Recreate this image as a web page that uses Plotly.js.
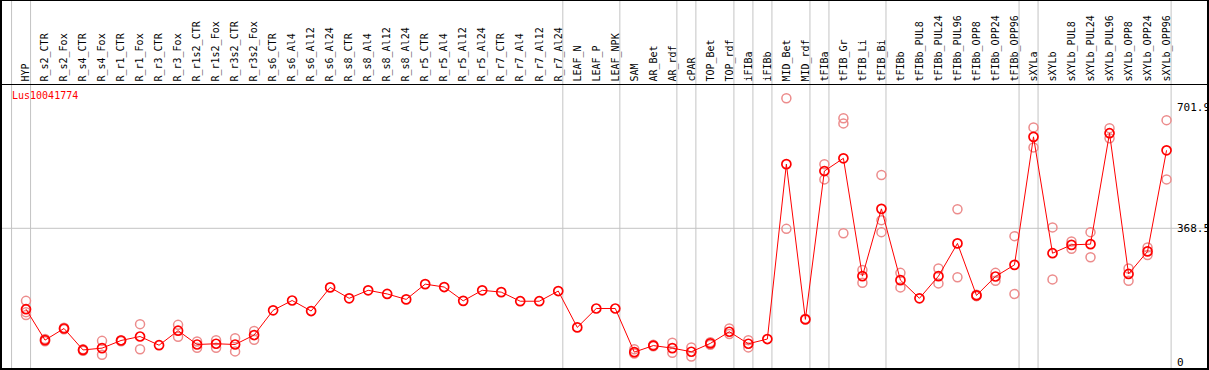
<!DOCTYPE html>
<html><head><meta charset="utf-8">
<script src="https://cdn.plot.ly/plotly-3.0.1.min.js"></script>
<style>html,body{margin:0;padding:0;background:#fff}#chart{width:1209px;height:370px}</style>
</head><body><div id="chart"></div>
<script>
const categories = ['HYP','R_s2_CTR','R_s2_Fox','R_s4_CTR','R_s4_Fox','R_r1_CTR','R_r1_Fox','R_r3_CTR','R_r3_Fox',
 'R_r1s2_CTR','R_r1s2_Fox','R_r3s2_CTR','R_r3s2_Fox','R_s6_CTR','R_s6_Al4','R_s6_Al12','R_s6_Al24',
 'R_s8_CTR','R_s8_Al4','R_s8_Al12','R_s8_Al24','R_r5_CTR','R_r5_Al4','R_r5_Al12','R_r5_Al24',
 'R_r7_CTR','R_r7_Al4','R_r7_Al12','R_r7_Al24','LEAF_N','LEAF_P','LEAF_NPK','SAM','AR_Bet','AR_rdf',
 'cPAR','TOP_Bet','TOP_rdf','iFIBa','iFIBb','MID_Bet','MID_rdf','tFIBa','tFIB_Gr','tFIB_Li','tFIB_Bi',
 'tFIBb','tFIBb_PUL8','tFIBb_PUL24','tFIBb_PUL96','tFIBb_OPP8','tFIBb_OPP24','tFIBb_OPP96',
 'sXYLa','sXYLb','sXYLb_PUL8','sXYLb_PUL24','sXYLb_PUL96','sXYLb_OPP8','sXYLb_OPP24','sXYLb_OPP96'];

const means = [146,61,93,34,39,60,71,47,87,
 49,51,49,75,143,170,141,206,
 176,198,188,173,215,207,169,198,
 193,168,168,196,96,148,148,28,46,39,
 29,52,84,51,64,545,118,526,561,237,422,
 226,176,237,327,184,236,268,
 620,300,323,325,630,243,305,583];

const replicates = [[169,138,130],[64,58],[95,91],[36,32],[59,21],[61,58],[105,36],[],[103,70],
 [57,40],[61,40],[66,30],[86,62],[],[],[],[],
 [],[],[],[],[],[],[],[],
 [],[],[],[],[],[],[],[36,24],[48,44],[54,26],
 [41,16],[55,48],[93,78],[61,41],[],[726,367],[120],[545,503],[671,657,355],[254,219],[515,391,358],
 [246,206],[],[258,217],[421,234],[186,182],[246,224],[347,188],
 [646,591],[371,228],[332,312],[358,289],[644,616],[258,224],[316,295],[666,503]];

const groupEnds = [-1,0,28,31,34,35,37,38,39,41,42,45,52,53,60];
const yTicks = [0, 368.5, 701.9];
const yTickText = ['0','368.5','701.9'];
const geneLabel = 'Lus10041774';

const repX = [], repY = [];
replicates.forEach((r,i)=>r.forEach(v=>{repX.push(categories[i]); repY.push(v);}));

const W=1209, H=370, mt=85, mb=1, ml=1, mr=1;
const plotH = H-mt-mb;
const mono = 'DejaVu Sans Mono, monospace';

const traces = [
 {type:'scatter', mode:'markers', x:repX, y:repY, hoverinfo:'skip', cliponaxis:false,
  marker:{symbol:'circle-open', size:9, color:'rgb(236,140,140)', line:{width:1.5}}},
 {type:'scatter', mode:'lines+markers', x:categories, y:means, cliponaxis:false,
  line:{color:'#ff0000', width:1},
  marker:{symbol:'circle-open', size:9, color:'#ff0000', line:{width:1.7}}}
];

const shapes = groupEnds.map(g=>({type:'line', xref:'x', yref:'paper', x0:g+0.24, x1:g+0.24, y0:0, y1:1+mt/plotH,
  line:{color:'#c4c4c4', width:1}, layer:'below'}));
shapes.push({type:'line', xref:'paper', yref:'y', x0:0, x1:1, y0:yTicks[1], y1:yTicks[1], line:{color:'#c4c4c4', width:1}, layer:'below'});
shapes.push({type:'rect', xref:'paper', yref:'paper', x0:0, x1:1, y0:0, y1:1+mt/plotH, line:{color:'#000', width:2}, layer:'above'});

const layout = {
 width:W, height:H, margin:{l:ml, r:mr, t:mt, b:mb, pad:0},
 paper_bgcolor:'#fff', plot_bgcolor:'#fff', showlegend:false,
 xaxis:{type:'category', categoryorder:'array', categoryarray:categories, range:[-1.315, 62.18],
   side:'top', tickangle:-90, tickfont:{family:mono, size:10, color:'#000'},
   showgrid:false, zeroline:false, showline:true, linecolor:'#000', linewidth:1.5, ticks:'', fixedrange:true},
 yaxis:{range:[-18.4, 762.6], side:'right', anchor:'free', position:0.9735,
   tickmode:'array', tickvals:yTicks, ticktext:yTickText, tickfont:{family:mono, size:11, color:'#000'},
   showgrid:false, zeroline:false, showline:false, ticks:'', fixedrange:true},
 shapes:shapes,
 annotations:[{xref:'paper', yref:'paper', x:9/(W-ml-mr), y:(H-mb-96)/plotH, xanchor:'left', yanchor:'middle',
   text:geneLabel, showarrow:false, font:{family:mono, size:10, color:'#ff0000'}}]
};
Plotly.newPlot('chart', traces, layout, {staticPlot:true, displayModeBar:false});
</script></body></html>
